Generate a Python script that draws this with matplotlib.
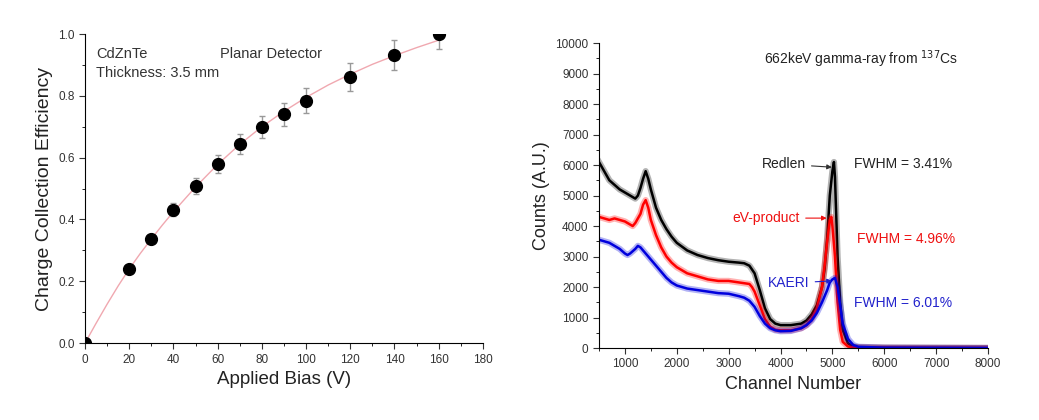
import numpy as np
import matplotlib
matplotlib.use('Agg')
import matplotlib.pyplot as plt
from matplotlib.ticker import MultipleLocator

plt.rcParams['font.family'] = ['Liberation Sans', 'DejaVu Sans']

# Left panel: charge collection efficiency vs applied bias
bias = [0, 20, 30, 40, 50, 60, 70, 80, 90, 100, 120, 140, 160]
cce = [0.0, 0.24, 0.338, 0.432, 0.508, 0.58, 0.645, 0.70, 0.74, 0.784, 0.862, 0.933, 1.0]
cce_err = [0.0, 0.0, 0.01, 0.02, 0.025, 0.03, 0.033, 0.035, 0.037, 0.04, 0.045, 0.048, 0.05]

fit_bias = [0, 5, 10, 15, 20, 25, 30, 35, 40, 50, 60, 70, 80, 90, 100, 110, 120, 130,
            140, 150, 160]
fit_cce = [0.0, 0.064, 0.126, 0.185, 0.24, 0.29, 0.337, 0.382, 0.425, 0.505, 0.578,
           0.643, 0.70, 0.75, 0.795, 0.835, 0.87, 0.902, 0.93, 0.956, 0.98]

# Right panel: 137Cs spectra
ch_redlen = [500, 600, 700, 800, 900, 1000, 1100, 1200, 1250, 1300, 1350, 1400, 1450,
             1500, 1600, 1700, 1800, 1900, 2000, 2200, 2400, 2600, 2800, 3000, 3200,
             3300, 3400, 3500, 3600, 3700, 3800, 3900, 4000, 4200, 4400, 4500, 4600,
             4700, 4800, 4850, 4900, 4950, 5000, 5030, 5050, 5100, 5150, 5200, 5300,
             5400, 5500, 6000, 7000, 8000]
cnt_redlen = [6100, 5800, 5500, 5350, 5200, 5100, 5000, 4900, 5000, 5250, 5550, 5800, 5550,
              5200, 4600, 4200, 3900, 3650, 3450, 3200, 3050, 2950, 2880, 2830, 2800,
              2780, 2700, 2450, 1900, 1300, 950, 800, 750, 750, 800, 900, 1100,
              1400, 2000, 2600, 3600, 5000, 5800, 6100, 5600, 3000, 1500, 600, 150,
              50, 20, 10, 5, 0]

ch_ev = [500, 600, 700, 800, 900, 1000, 1100, 1150, 1200, 1300, 1350, 1400, 1450,
         1500, 1600, 1700, 1800, 1900, 2000, 2200, 2400, 2600, 2800, 3000, 3200,
         3400, 3450, 3500, 3600, 3700, 3800, 3900, 4000, 4200, 4400, 4500, 4600,
         4700, 4800, 4850, 4900, 4950, 4980, 5000, 5050, 5100, 5150, 5200, 5300,
         5400, 6000, 7000, 8000]
cnt_ev = [4300, 4250, 4200, 4250, 4200, 4150, 4050, 4000, 4100, 4400, 4700, 4850, 4600,
          4200, 3700, 3300, 3000, 2800, 2650, 2450, 2350, 2250, 2200, 2200, 2150,
          2100, 2000, 1850, 1400, 950, 700, 600, 580, 580, 650, 750, 950,
          1300, 2000, 2700, 3500, 4200, 4300, 4000, 3000, 1500, 600, 200, 50,
          20, 5, 2, 0]

ch_kaeri = [500, 600, 700, 800, 900, 1000, 1050, 1100, 1200, 1250, 1300, 1400, 1500,
            1600, 1700, 1800, 1900, 2000, 2200, 2400, 2600, 2800, 3000, 3200, 3300,
            3400, 3500, 3600, 3700, 3800, 3900, 4000, 4200, 4400, 4500, 4600, 4700,
            4800, 4900, 4950, 5000, 5050, 5100, 5150, 5200, 5300, 5400, 5500, 6000,
            7000, 8000]
cnt_kaeri = [3550, 3500, 3450, 3350, 3250, 3100, 3050, 3100, 3250, 3350, 3300, 3100, 2900,
             2700, 2500, 2300, 2150, 2050, 1950, 1900, 1850, 1800, 1780, 1700, 1650,
             1550, 1350, 1050, 800, 650, 580, 550, 560, 650, 750, 900, 1150,
             1500, 1900, 2150, 2250, 2300, 2000, 1400, 800, 300, 100, 40, 10,
             5, 0]

fig = plt.figure(figsize=(10.39, 4.2), dpi=100)

# ---------------- left panel ----------------
ax1 = fig.add_axes([0.0818, 0.183, 0.383, 0.736])
ax1.plot(fit_bias, fit_cce, color='#f0a8b0', linewidth=1.0, zorder=1)
ax1.errorbar(bias, cce, yerr=cce_err, fmt='o', color='black', markersize=8.5,
             ecolor='#999999', elinewidth=1.0, capsize=2.5, zorder=3)
ax1.set_xlim(0, 180)
ax1.set_ylim(0, 1.0)
ax1.xaxis.set_major_locator(MultipleLocator(20))
ax1.xaxis.set_minor_locator(MultipleLocator(10))
ax1.yaxis.set_major_locator(MultipleLocator(0.2))
ax1.yaxis.set_minor_locator(MultipleLocator(0.1))
ax1.yaxis.set_major_formatter(matplotlib.ticker.FormatStrFormatter('%.1f'))
ax1.spines['top'].set_visible(False)
ax1.spines['right'].set_visible(False)
ax1.tick_params(which='major', direction='out', length=4, labelsize=8.5, colors='#333333')
ax1.tick_params(which='minor', direction='out', length=2)
ax1.set_xlabel('Applied Bias (V)', fontsize=13.5, color='#222222')
ax1.set_ylabel('Charge Collection Efficiency', fontsize=14, color='#222222')
ax1.text(5, 0.935, 'CdZnTe', fontsize=10.5, color='#333333', va='center')
ax1.text(61, 0.935, 'Planar Detector', fontsize=10.5, color='#333333', va='center')
ax1.text(5, 0.875, 'Thickness: 3.5 mm', fontsize=10.5, color='#333333', va='center')

# ---------------- right panel ----------------
ax2 = fig.add_axes([0.5765, 0.1714, 0.3744, 0.726])
for ch, cnt, col in [(ch_redlen, cnt_redlen, 'black'),
                     (ch_ev, cnt_ev, '#ff0000'),
                     (ch_kaeri, cnt_kaeri, '#0000dd')]:
    # faint wide band for the counting noise, then the spectrum itself
    ax2.plot(ch, cnt, color=col, linewidth=4.5, alpha=0.3)
    ax2.plot(ch, cnt, color=col, linewidth=1.8)
ax2.set_xlim(500, 8000)
ax2.set_ylim(0, 10000)
ax2.xaxis.set_major_locator(MultipleLocator(1000))
ax2.xaxis.set_minor_locator(MultipleLocator(500))
ax2.yaxis.set_major_locator(MultipleLocator(1000))
ax2.yaxis.set_minor_locator(MultipleLocator(500))
ax2.spines['top'].set_visible(False)
ax2.spines['right'].set_visible(False)
ax2.tick_params(which='major', direction='out', length=4, labelsize=8.5, colors='#333333')
ax2.tick_params(which='minor', direction='out', length=2)
ax2.set_xlabel('Channel Number', fontsize=13, color='#222222')
ax2.set_ylabel('Counts (A.U.)', fontsize=13, color='#222222')

ax2.text(3680, 9475, r'662keV gamma-ray from $^{137}$Cs', fontsize=10, color='#222222', va='center')
ax2.annotate('Redlen', xy=(4990, 5930), xytext=(3640, 6030), fontsize=10, color='#222222',
             va='center', arrowprops=dict(arrowstyle='-|>', color='#333333', lw=0.8,
                                          mutation_scale=7, shrinkA=2, shrinkB=0))
ax2.text(5410, 6030, 'FWHM = 3.41%', fontsize=10, color='#222222', va='center')
ax2.annotate('eV-product', xy=(4890, 4260), xytext=(3080, 4260), fontsize=10, color='#ee1111',
             va='center', arrowprops=dict(arrowstyle='-|>', color='#ee1111', lw=0.8,
                                          mutation_scale=7, shrinkA=2, shrinkB=0))
ax2.text(5470, 3570, 'FWHM = 4.96%', fontsize=10, color='#ee1111', va='center')
ax2.annotate('KAERI', xy=(4990, 2200), xytext=(3760, 2130), fontsize=10, color='#2222cc',
             va='center', arrowprops=dict(arrowstyle='-|>', color='#2222cc', lw=0.8,
                                          mutation_scale=7, shrinkA=2, shrinkB=0))
ax2.text(5410, 1475, 'FWHM = 6.01%', fontsize=10, color='#2222cc', va='center')

fig.savefig('out.png', dpi=100)
